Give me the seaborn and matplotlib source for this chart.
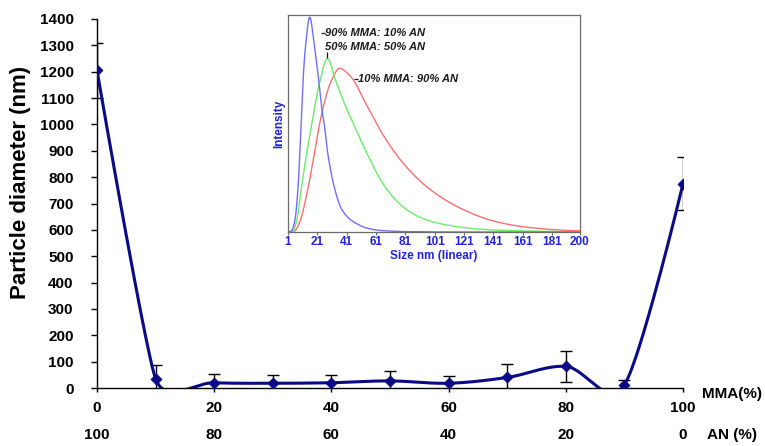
import numpy as np
import pandas as pd
import matplotlib
matplotlib.use("Agg")
import matplotlib.pyplot as plt
import seaborn as sns

# ---------------- data ----------------
mma_pct = [0, 10, 20, 30, 40, 50, 60, 70, 80, 90, 100]
diameter = [1205, 35, 20, 18, 20, 27, 18, 40, 82, 12, 775]
diam_err = [103, 53, 32, 32, 30, 38, 27, 52, 60, 20, 100]
x_ticks = [0, 20, 40, 60, 80, 100]
an_labels = ["100", "80", "60", "40", "20", "0"]
y_ticks = list(range(0, 1500, 100))

# inset: DLS size distributions
blue_size = [1, 3.3, 5.5, 7.8, 9.0, 10.1, 11.2, 12.8, 15.8, 19.2, 22.1, 24.4, 25.5, 28.3,
             32.8, 37.4, 43.0, 48.7, 54.6, 66.0, 80.0, 120.0, 200.0]
blue_int = [0.0, 0.005, 0.046, 0.20, 0.353, 0.52, 0.69, 0.846, 0.99, 0.846, 0.69, 0.55, 0.507,
            0.353, 0.20, 0.107, 0.06, 0.035, 0.018, 0.006, 0.002, 0.0, 0.0]
green_size = [1, 4.4, 6.7, 10.1, 13.5, 16.5, 18.0, 22.6, 27.8, 33.9, 40.8, 45.5, 54.6, 66.0,
              77.3, 88.7, 100.0, 111.4, 130.0, 160.0, 200.0]
green_int = [0.0, 0.005, 0.046, 0.20, 0.353, 0.47, 0.53, 0.69, 0.80, 0.69, 0.57, 0.50, 0.365,
             0.22, 0.128, 0.075, 0.046, 0.03, 0.014, 0.005, 0.001]
red_size = [1, 5.5, 9.0, 14.6, 18.7, 22.6, 25.5, 30.1, 36.2, 43.25, 54.6, 66.0, 77.3, 88.7,
            100.0, 111.4, 120.0, 138.7, 161.4, 184.0, 200.0]
red_int = [0.0, 0.005, 0.046, 0.20, 0.353, 0.50, 0.59, 0.69, 0.754, 0.72, 0.585, 0.445, 0.335,
           0.25, 0.185, 0.135, 0.105, 0.055, 0.024, 0.01, 0.005]
inset_ticks = [1, 21, 41, 61, 81, 101, 121, 141, 161, 181, 200]
curve_labels = ["90% MMA: 10% AN", "50% MMA: 50% AN", "10% MMA: 90% AN"]


# ---------------- helpers (rendering of smooth lines) ----------------
def pchip(x, y, xn):
    x = np.asarray(x, float); y = np.asarray(y, float)
    h = np.diff(x); d = np.diff(y) / h
    n = len(x); m = np.zeros(n)
    for k in range(1, n - 1):
        if d[k - 1] * d[k] > 0:
            w1 = 2 * h[k] + h[k - 1]; w2 = h[k] + 2 * h[k - 1]
            m[k] = (w1 + w2) / (w1 / d[k - 1] + w2 / d[k])
    m[0] = d[0]; m[-1] = d[-1]
    idx = np.clip(np.searchsorted(x, xn) - 1, 0, n - 2)
    t = (xn - x[idx]) / h[idx]
    h00 = 2 * t**3 - 3 * t**2 + 1; h10 = t**3 - 2 * t**2 + t
    h01 = -2 * t**3 + 3 * t**2; h11 = t**3 - t**2
    return h00 * y[idx] + h10 * h[idx] * m[idx] + h01 * y[idx + 1] + h11 * h[idx] * m[idx + 1]


def excel_smooth(xs, ys, sx, sy, n=60):
    P = np.column_stack([np.asarray(xs, float) * sx, np.asarray(ys, float) * sy])
    m = len(P)
    arms = np.zeros((m, 2))
    for i in range(1, m - 1):
        v = P[i + 1] - P[i - 1]
        d02 = np.hypot(*v)
        d01 = np.hypot(*(P[i] - P[i - 1]))
        d12 = np.hypot(*(P[i + 1] - P[i]))
        L = min(d02 / 6, d01 / 2, d12 / 2)
        if d02 > 0:
            arms[i] = v / d02 * L
    t = np.linspace(0, 1, n)[:, None]
    out = []
    for i in range(m - 1):
        p0 = P[i]; p3 = P[i + 1]
        p1 = p0 + arms[i]; p2 = p3 - arms[i + 1]
        b = (1 - t)**3 * p0 + 3 * (1 - t)**2 * t * p1 + 3 * (1 - t) * t**2 * p2 + t**3 * p3
        out.append(b if i == 0 else b[1:])
    B = np.vstack(out)
    return B[:, 0] / sx, B[:, 1] / sy


# ---------------- style ----------------
sns.set_theme(style="white")
plt.rcParams["font.family"] = ["Liberation Sans", "DejaVu Sans"]
plt.rcParams["font.weight"] = "bold"
plt.rcParams["axes.labelweight"] = "bold"

W, H = 765, 446
fig = plt.figure(figsize=(W / 100, H / 100), dpi=100)
fig.patch.set_facecolor("white")

# main axes: x 0..100 -> px 97..683 ; y 0..1400 -> px 388..19
ax = fig.add_axes([97 / W, (H - 388) / H, 586 / W, 369 / H])
ax.set_facecolor("white")

navy = "#0a0a84"
sx = 586 / 100.0
sy = 369 / 1400.0
cx, cy = excel_smooth(mma_pct, diameter, sx, sy)
sns.lineplot(x=cx, y=cy, ax=ax, color=navy, lw=2.2, sort=False, estimator=None, zorder=3)
ax.errorbar(mma_pct, diameter, yerr=diam_err, fmt="none", ecolor="black",
            elinewidth=1.0, capsize=4, capthick=1.0, zorder=2)
sns.scatterplot(x=mma_pct, y=diameter, ax=ax, marker="D", s=32, color=navy,
                edgecolor=navy, linewidth=0.5, zorder=4)

ax.set_xlim(0, 100)
ax.set_ylim(0, 1400)
for s in ["top", "right"]:
    ax.spines[s].set_visible(False)
for s in ["left", "bottom"]:
    ax.spines[s].set_color("black")
    ax.spines[s].set_linewidth(1.0)

ax.set_yticks(y_ticks)
ax.set_yticklabels([str(v) for v in y_ticks], fontsize=11, fontweight="bold")
ax.set_xticks(x_ticks)
ax.set_xticklabels([str(v) for v in x_ticks], fontsize=11, fontweight="bold")
ax.tick_params(axis="y", direction="out", length=4.3, width=1, color="black", pad=12.5,
               left=True, labelcolor="black")
ax.tick_params(axis="x", direction="out", length=3, width=1, color="black", pad=6.5,
               bottom=True, labelcolor="black")

ax.set_ylabel("Particle diameter (nm)", fontsize=16, fontweight="bold", color="black")
ax.yaxis.set_label_coords(-0.113, 0.558)

tr = ax.get_xaxis_transform()
for xv, lab in zip(x_ticks, an_labels):
    ax.text(xv, -0.128, lab, transform=tr, ha="center", va="center",
            fontsize=11, fontweight="bold", color="black")
ax.text(1.032, -0.016, "MMA(%)", transform=ax.transAxes, ha="left", va="center",
        fontsize=11, fontweight="bold", color="black")
ax.text(1.041, -0.128, "AN (%)", transform=ax.transAxes, ha="left", va="center",
        fontsize=11, fontweight="bold", color="black")

# ---------------- inset ----------------
axi = fig.add_axes([288 / W, (H - 232) / H, 292 / W, 217 / H])
axi.set_facecolor("white")
xs_dense = np.linspace(1, 200, 800)
for sz, it, col in [(red_size, red_int, "#ff6e6e"),
                    (green_size, green_int, "#6cec6c"),
                    (blue_size, blue_int, "#6f6fff")]:
    yd = np.clip(pchip(sz, it, xs_dense), 0, None)
    sns.lineplot(x=xs_dense, y=yd, ax=axi, color=col, lw=1.0, sort=False, estimator=None)

axi.set_xlim(1, 200)
axi.set_ylim(0, 1.0)
for s in axi.spines.values():
    s.set_visible(True)
    s.set_color("#6a6a6a")
    s.set_linewidth(0.9)
axi.set_xticks(inset_ticks)
axi.set_xticklabels([str(v) for v in inset_ticks], fontsize=8.5, fontweight="bold", color="#2222dd")
axi.set_yticks([])
axi.tick_params(axis="x", direction="out", length=2, width=0.8, color="#6a6a6a", pad=1, bottom=True)
axi.set_xlabel("Size nm (linear)", fontsize=8.5, fontweight="bold", color="#2222dd", labelpad=1)
axi.set_ylabel("Intensity", fontsize=8.5, fontweight="bold", color="#2222dd", labelpad=2)

txt_kw = dict(fontsize=8, fontweight="bold", fontstyle="italic", color="#1a1a1a",
              transform=axi.transAxes, ha="left", va="center")
line_kw = dict(color="#1a1a1a", lw=0.9, transform=axi.transAxes, solid_capstyle="butt")
axi.text(0.127, 0.917, curve_labels[0], **txt_kw)
axi.plot([0.112, 0.126], [0.917, 0.917], **line_kw)
axi.text(0.127, 0.852, curve_labels[1], **txt_kw)
axi.plot([0.132, 0.132], [0.80, 0.828], **line_kw)
axi.text(0.240, 0.705, curve_labels[2], **txt_kw)
axi.plot([0.226, 0.239], [0.705, 0.705], **line_kw)

fig.savefig("out.png", dpi=100, facecolor="white")
